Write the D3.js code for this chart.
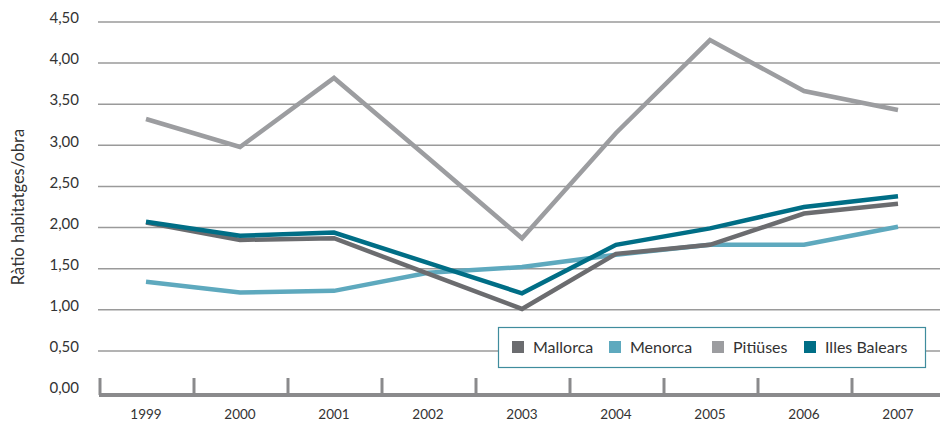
<!DOCTYPE html>
<html>
<head>
<meta charset="utf-8">
<script src="https://cdn.jsdelivr.net/npm/d3@7"></script>
<style>
  body { margin: 0; background: #fff; }
  text { font-family: Lato, "Open Sans", sans-serif; fill: #333; }
</style>
</head>
<body>
<div id="chart"></div>
<script>
var years = ["1999","2000","2001","2002","2003","2004","2005","2006","2007"];
var mallorca = [2.06, 1.85, 1.87, 1.44, 1.01, 1.68, 1.79, 2.17, 2.29];
var menorca  = [1.34, 1.21, 1.23, 1.45, 1.52, 1.67, 1.79, 1.79, 2.01];
var pitiuses = [3.32, 2.98, 3.82, 2.85, 1.87, 3.15, 4.28, 3.66, 3.43];
var balears  = [2.07, 1.90, 1.94, 1.57, 1.20, 1.79, 1.99, 2.25, 2.38];
var yTicks = [0, 0.5, 1, 1.5, 2, 2.5, 3, 3.5, 4, 4.5];

var width = 940, height = 425;

var series = [
  {name: "Menorca", values: menorca, color: "#5ea9be"},
  {name: "Pitiüses", values: pitiuses, color: "#9c9da0"},
  {name: "Mallorca", values: mallorca, color: "#6b6c6f"},
  {name: "Illes Balears", values: balears, color: "#006e86"}
];
var legendOrder = ["Mallorca", "Menorca", "Pitiüses", "Illes Balears"];

var svg = d3.select("#chart").append("svg")
  .attr("width", width)
  .attr("height", height);

var x = d3.scaleBand().domain(years).range([99, 945]);
var y = d3.scaleLinear().domain([0, 4.5]).range([392, 22]);

var fmt = function(v) { return d3.format(".2f")(v).replace(".", ","); };

// gridlines
svg.append("g").selectAll("line")
  .data(yTicks.filter(function(d) { return d > 0; }))
  .enter().append("line")
  .attr("x1", 98).attr("x2", width)
  .attr("y1", function(d) { return y(d); })
  .attr("y2", function(d) { return y(d); })
  .attr("stroke", "#9a9a9a")
  .attr("stroke-width", 1.5);

// y labels
svg.append("g").selectAll("text")
  .data(yTicks)
  .enter().append("text")
  .attr("x", 79)
  .attr("y", function(d) { return y(d) - 4; })
  .attr("dy", "0.35em")
  .attr("text-anchor", "end")
  .style("font-size", "15px")
  .text(fmt);

// axis title
svg.append("text")
  .attr("transform", "translate(24,207) rotate(-90)")
  .attr("text-anchor", "middle")
  .style("font-size", "16.5px")
  .text("Ràtio habitatges/obra");

// bottom axis
svg.append("line")
  .attr("x1", 99).attr("x2", width)
  .attr("y1", 395).attr("y2", 395)
  .attr("stroke", "#8a8a8c")
  .attr("stroke-width", 4);

svg.append("g").selectAll("line")
  .data(years)
  .enter().append("line")
  .attr("x1", function(d) { return x(d) + 1; })
  .attr("x2", function(d) { return x(d) + 1; })
  .attr("y1", 378).attr("y2", 395)
  .attr("stroke", "#8a8a8c")
  .attr("stroke-width", 3);

svg.append("g").selectAll("text")
  .data(years)
  .enter().append("text")
  .attr("x", function(d) { return x(d) + x.bandwidth() / 2; })
  .attr("y", 419)
  .attr("text-anchor", "middle")
  .style("font-size", "13.5px")
  .text(function(d) { return d; });

// lines
var line = d3.line()
  .x(function(d, i) { return x(years[i]) + x.bandwidth() / 2; })
  .y(function(d) { return y(d); });

svg.append("g").selectAll("path")
  .data(series)
  .enter().append("path")
  .attr("d", function(d) { return line(d.values); })
  .attr("fill", "none")
  .attr("stroke", function(d) { return d.color; })
  .attr("stroke-width", 4.5)
  .attr("stroke-linejoin", "miter");

// legend
var legend = svg.append("g");
legend.append("rect")
  .attr("x", 498.5).attr("y", 327.5)
  .attr("width", 427).attr("height", 40)
  .attr("fill", "#fff")
  .attr("stroke", "#3f8c9d")
  .attr("stroke-width", 1.2);

var legX = [512, 609, 712, 804];
legendOrder.forEach(function(name, i) {
  var s = series.filter(function(d) { return d.name === name; })[0];
  legend.append("rect")
    .attr("x", legX[i]).attr("y", 341)
    .attr("width", 12).attr("height", 12)
    .attr("fill", s.color);
  legend.append("text")
    .attr("x", legX[i] + 21).attr("y", 347)
    .attr("dy", "0.35em")
    .style("font-size", "16px")
    .text(name);
});
</script>
</body>
</html>
